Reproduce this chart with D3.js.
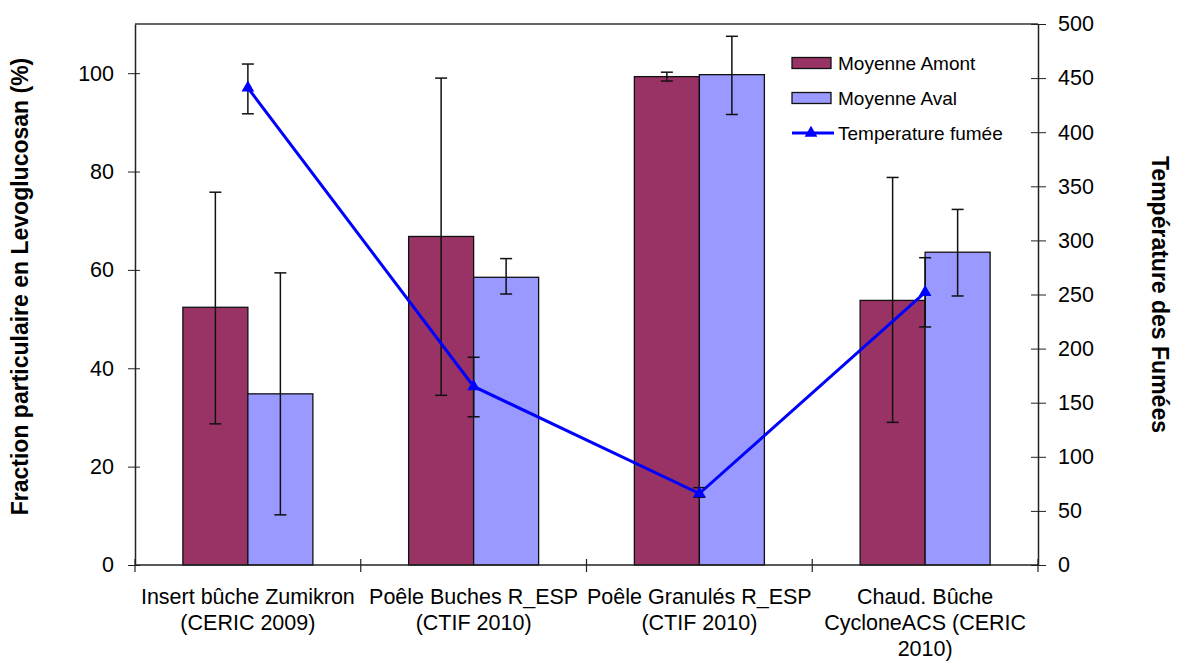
<!DOCTYPE html>
<html>
<head>
<meta charset="utf-8">
<script src="https://cdn.jsdelivr.net/npm/d3@7"></script>
<style>
  html, body { margin: 0; padding: 0; background: #fff; }
  svg { display: block; font-family: "Liberation Sans", Arial, sans-serif; }
</style>
</head>
<body>
<svg id="chart" width="1177" height="661"></svg>
<script>
// ---- Data ----
const categories = [
  "Insert bûche Zumikron\n(CERIC 2009)",
  "Poêle Buches R_ESP\n(CTIF 2010)",
  "Poêle Granulés R_ESP\n(CTIF 2010)",
  "Chaud. Bûche\nCycloneACS (CERIC\n2010)"
];
const seriesNames = ["Moyenne Amont", "Moyenne Aval"];
const amont      = [52.4, 66.8, 99.3, 53.8];
const amontLow   = [28.7, 34.5, 98.4, 29.0];
const amontHigh  = [75.8, 99.0, 100.2, 78.8];
const aval       = [34.8, 58.5, 99.7, 63.6];
const avalLow    = [10.2, 55.1, 91.6, 54.7];
const avalHigh   = [59.4, 62.3, 107.5, 72.3];
const lineName   = "Temperature fumée";
const temperature = [441, 165, 66, 252];
const tempLow     = [417, 137, 62.6, 220];
const tempHigh    = [463, 192, 71.5, 284];
const leftTicks  = [0, 20, 40, 60, 80, 100];
const rightTicks = [0, 50, 100, 150, 200, 250, 300, 350, 400, 450, 500];
const leftTitle  = "Fraction particulaire en Levoglucosan (%)";
const rightTitle = "Température des Fumées";

// ---- Layout ----
const L = 135, R = 1038, T = 24, B = 565;
const colors = { "Moyenne Amont": "#993366", "Moyenne Aval": "#9999FF" };
const lineColor = "#0000FF";

const svg = d3.select("#chart");

const x0 = d3.scaleBand().domain(categories).range([L, R]).paddingInner(0).paddingOuter(0);
const x1 = d3.scaleBand().domain(seriesNames).range([0, x0.bandwidth()]).paddingInner(0).paddingOuter(0.7365);
const yL = d3.scaleLinear().domain([0, 110]).range([B, T]);
const yR = d3.scaleLinear().domain([0, 500]).range([B, T]);

// frame top line
svg.append("line").attr("x1", L).attr("x2", R).attr("y1", T).attr("y2", T)
  .attr("stroke", "#333").attr("stroke-width", 1.5);

// bars
const bars = [
  { name: "Moyenne Amont", vals: amont, lo: amontLow, hi: amontHigh },
  { name: "Moyenne Aval", vals: aval, lo: avalLow, hi: avalHigh }
];
bars.forEach(s => {
  const g = svg.append("g");
  g.selectAll("rect").data(categories).join("rect")
    .attr("x", (c) => x0(c) + x1(s.name))
    .attr("y", (c, i) => yL(s.vals[i]))
    .attr("width", x1.bandwidth())
    .attr("height", (c, i) => B - yL(s.vals[i]))
    .attr("fill", colors[s.name])
    .attr("stroke", "#111").attr("stroke-width", 1.3);
});

// bar error bars
const cap = 6;
bars.forEach(s => {
  const g = svg.append("g").attr("stroke", "#111").attr("stroke-width", 1.5);
  categories.forEach((c, i) => {
    const cx = x0(c) + x1(s.name) + x1.bandwidth() / 2;
    g.append("line").attr("x1", cx).attr("x2", cx).attr("y1", yL(s.lo[i])).attr("y2", yL(s.hi[i]));
    g.append("line").attr("x1", cx - cap).attr("x2", cx + cap).attr("y1", yL(s.lo[i])).attr("y2", yL(s.lo[i]));
    g.append("line").attr("x1", cx - cap).attr("x2", cx + cap).attr("y1", yL(s.hi[i])).attr("y2", yL(s.hi[i]));
  });
});

// axes
const axL = svg.append("g").attr("transform", `translate(${L},0)`)
  .call(d3.axisLeft(yL).tickValues(leftTicks).tickSizeInner(7).tickSizeOuter(0).tickPadding(14));
axL.select(".domain").attr("stroke", "#222").attr("stroke-width", 1.5);
axL.selectAll(".tick line").attr("x1", 5).attr("x2", -7).attr("stroke", "#222");
axL.selectAll(".tick text").attr("font-size", 21.5).attr("fill", "#000")
  .attr("font-family", "Liberation Sans, Arial, sans-serif");

const axR = svg.append("g").attr("transform", `translate(${R},0)`)
  .call(d3.axisRight(yR).tickValues(rightTicks).tickSizeInner(8).tickSizeOuter(0).tickPadding(12));
axR.select(".domain").attr("stroke", "#222").attr("stroke-width", 1.5);
axR.selectAll(".tick line").attr("x1", -7).attr("x2", 8).attr("stroke", "#222");
axR.selectAll(".tick text").attr("font-size", 21.5).attr("fill", "#000")
  .attr("font-family", "Liberation Sans, Arial, sans-serif");

// bottom axis line + boundary ticks
const gB = svg.append("g");
gB.append("line").attr("x1", L).attr("x2", R).attr("y1", B).attr("y2", B).attr("stroke", "#222").attr("stroke-width", 1.5);
const bounds = categories.map(c => x0(c)).concat([x0.range()[1]]);
gB.selectAll("line.tk").data(bounds).join("line").attr("class", "tk")
  .attr("x1", d => d).attr("x2", d => d).attr("y1", B - 6).attr("y2", B + 7)
  .attr("stroke", "#222").attr("stroke-width", 1.2);

// category labels
categories.forEach(c => {
  const lines = c.split("\n");
  const t = svg.append("text").attr("text-anchor", "middle").attr("font-size", 21.5).attr("fill", "#000")
    .attr("x", x0(c) + x0.bandwidth() / 2).attr("y", 604);
  lines.forEach((ln, k) => {
    t.append("tspan").attr("x", x0(c) + x0.bandwidth() / 2).attr("dy", k === 0 ? 0 : 26).text(ln);
  });
});

// temperature line
const cx = (c) => x0(c) + x0.bandwidth() / 2;
const lineGen = d3.line().x((d, i) => cx(categories[i])).y(d => yR(d));
svg.append("path").datum(temperature).attr("d", lineGen)
  .attr("fill", "none").attr("stroke", lineColor).attr("stroke-width", 3);

// temperature error bars
const gT = svg.append("g").attr("stroke", "#111").attr("stroke-width", 1.5);
categories.forEach((c, i) => {
  const xx = cx(c);
  gT.append("line").attr("x1", xx).attr("x2", xx).attr("y1", yR(tempLow[i])).attr("y2", yR(tempHigh[i]));
  gT.append("line").attr("x1", xx - cap).attr("x2", xx + cap).attr("y1", yR(tempLow[i])).attr("y2", yR(tempLow[i]));
  gT.append("line").attr("x1", xx - cap).attr("x2", xx + cap).attr("y1", yR(tempHigh[i])).attr("y2", yR(tempHigh[i]));
});

// markers
const tri = d3.symbol().type(d3.symbolTriangle).size(70);
svg.append("g").selectAll("path").data(temperature).join("path")
  .attr("d", tri)
  .attr("transform", (d, i) => `translate(${cx(categories[i])},${yR(d)})`)
  .attr("fill", lineColor);

// legend
const lg = svg.append("g").attr("font-size", 19).attr("fill", "#000");
seriesNames.forEach((n, k) => {
  const yy = 63 + k * 35;
  lg.append("rect").attr("x", 792).attr("y", yy - 5.5).attr("width", 39).attr("height", 11)
    .attr("fill", colors[n]).attr("stroke", "#111").attr("stroke-width", 1.3);
  lg.append("text").attr("x", 838).attr("y", yy + 6.5).text(n);
});
{
  const yy = 133;
  lg.append("line").attr("x1", 792).attr("x2", 834).attr("y1", yy).attr("y2", yy)
    .attr("stroke", lineColor).attr("stroke-width", 3);
  lg.append("path").attr("d", tri).attr("transform", `translate(811,${yy})`).attr("fill", lineColor);
  lg.append("text").attr("x", 838).attr("y", yy + 6.5).text(lineName);
}

// axis titles
svg.append("text").attr("transform", `translate(28,${(T + B) / 2 - 8}) rotate(-90)`)
  .attr("text-anchor", "middle").attr("font-weight", "bold").attr("font-size", 23).attr("fill", "#000")
  .text(leftTitle);
svg.append("text").attr("transform", `translate(1152,${(T + B) / 2}) rotate(90)`)
  .attr("text-anchor", "middle").attr("font-weight", "bold").attr("font-size", 23).attr("fill", "#000")
  .text(rightTitle);
</script>
</body>
</html>
